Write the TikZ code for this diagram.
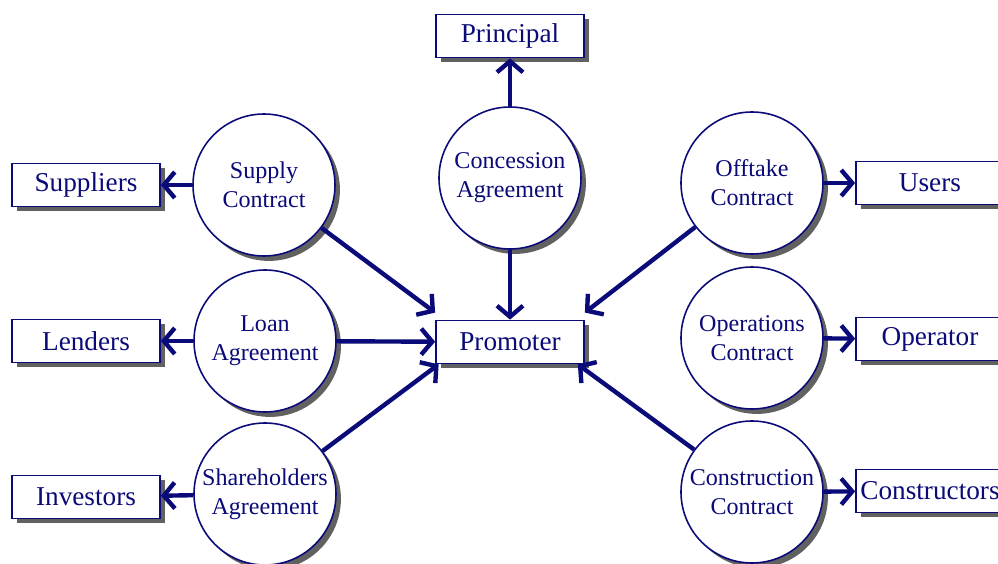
\documentclass[tikz,border=0pt]{standalone}
\usepackage{fontspec}
\setmainfont{Liberation Serif}
\usetikzlibrary{arrows.meta,shadows}
\definecolor{navy}{RGB}{10,10,120}
\begin{document}
\begin{tikzpicture}[
  shade/.style={drop shadow={shadow xshift=2.8pt,shadow yshift=-2.8pt,fill=black!62,opacity=1}},
  party/.style={draw=navy,line width=1pt,fill=white,shade,minimum width=2.96cm,minimum height=0.86cm,inner sep=1pt,text=navy,font=\fontsize{15.5}{17}\selectfont},
  deal/.style={circle,draw=navy,line width=0.9pt,fill=white,shade,minimum size=2.84cm,inner sep=0pt,text=navy,align=center,font=\fontsize{13.7}{16.5}\selectfont},
  link/.style={draw=navy,line width=2.5pt,-{Straight Barb[length=2.2mm,width=5.2mm,line width=2.5pt]}}]
\useasboundingbox (0,0) rectangle (19.96,11.28);

% contracts
\node[deal] (supply) at (5.28,7.58) {Supply\\Contract};
\node[deal] (loan) at (5.30,4.46) {Loan\\Agreement};
\node[deal] (holders) at (5.30,1.40) {Shareholders\\Agreement};
\node[deal] (concession) at (10.2,7.72) {Concession\\Agreement};
\node[deal] (offtake) at (15.04,7.62) {Offtake\\Contract};
\node[deal] (operations) at (15.04,4.52) {Operations\\Contract};
\node[deal] (construction) at (15.04,1.44) {Construction\\Contract};

% parties
\node[party] (suppliers) at (1.72,7.58) {Suppliers};
\node[party] (lenders) at (1.72,4.46) {Lenders};
\node[party] (investors) at (1.72,1.34) {Investors};
\node[party] (principal) at (10.2,10.56) {Principal};
\node[party] (promoter) at (10.2,4.44) {Promoter};
\node[party] (users) at (18.6,7.62) {Users};
\node[party] (operator) at (18.6,4.50) {Operator};
\node[party] (constructors) at (18.6,1.46) {Constructors};

\draw[link] (supply) -- (suppliers);
\draw[link] (loan) -- (lenders);
\draw[link] (holders) -- (investors);
\draw[link] (concession) -- (principal);
\draw[link] (offtake) -- (users);
\draw[link] (operations) -- (operator);
\draw[link] (construction) -- (constructors);

\draw[link] (supply) -- ([yshift=4pt]promoter.north west);
\draw[link] (loan) -- (promoter);
\draw[link] (holders) -- ([xshift=2pt]promoter.south west);
\draw[link] (concession) -- (promoter);
\draw[link] (offtake) -- ([yshift=4pt]promoter.north east);
\draw[link] (construction) -- ([xshift=-4pt]promoter.south east);
\end{tikzpicture}
\end{document}
